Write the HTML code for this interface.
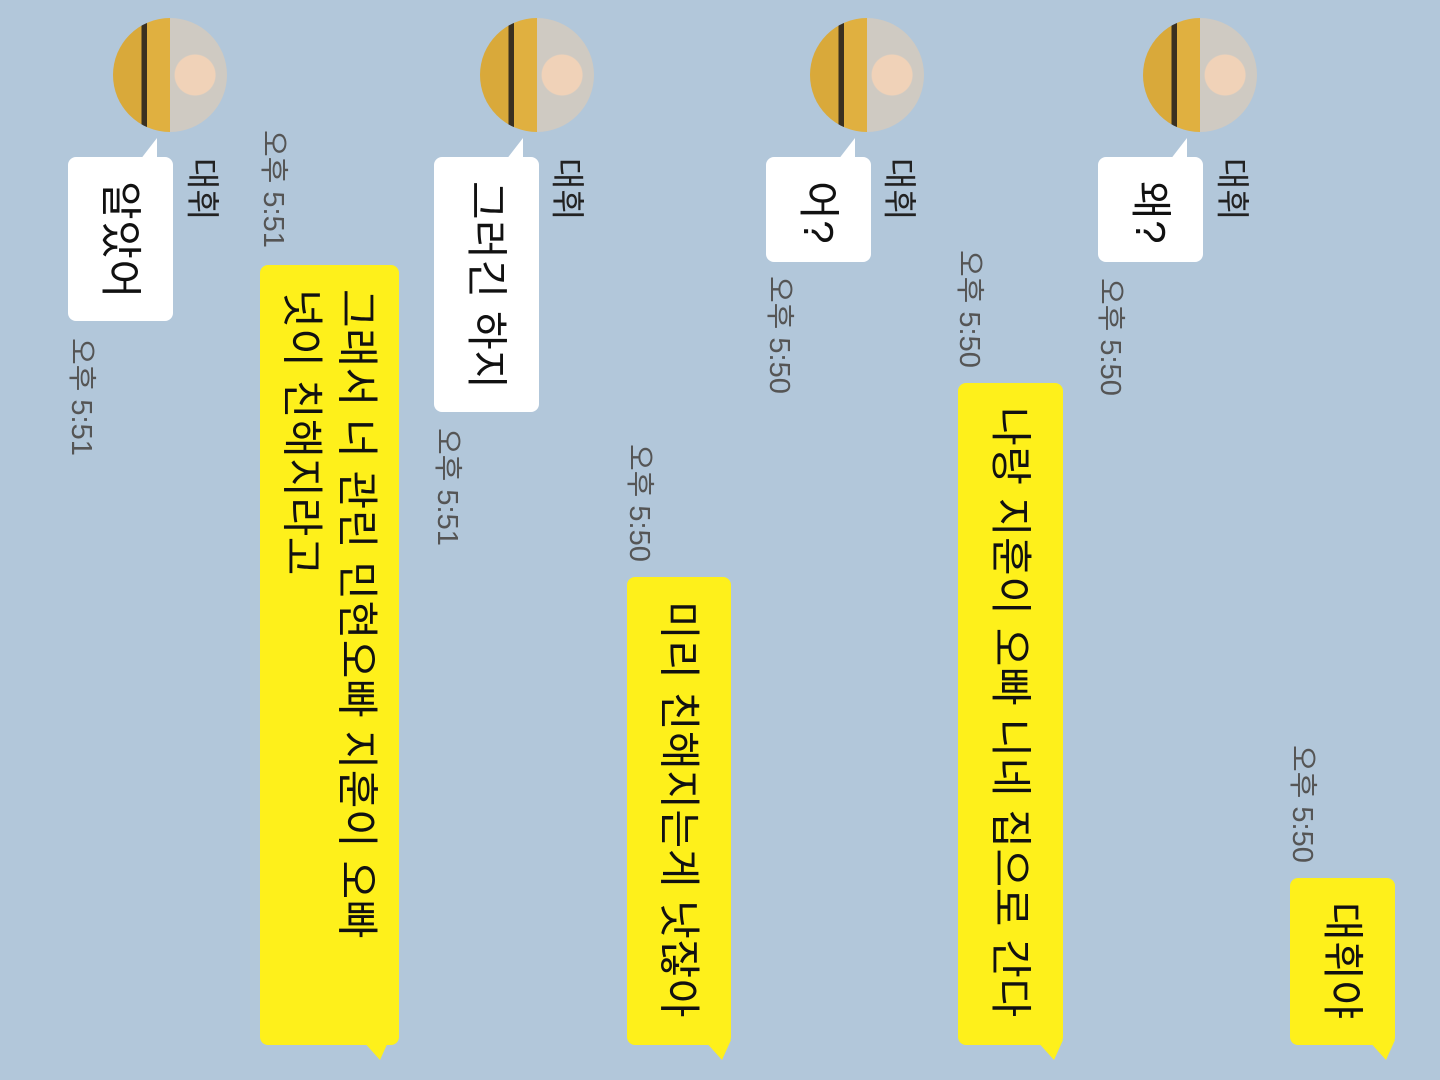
<!DOCTYPE html>
<html><head><meta charset="utf-8"><style>
html,body{margin:0;padding:0}
body{width:1440px;height:1080px;background:#b2c7da;position:relative;overflow:hidden;font-family:"Liberation Sans","Noto Sans CJK KR","NanumGothic",sans-serif}
.v{position:absolute;writing-mode:vertical-rl;text-orientation:sideways;display:flex;align-items:center;box-sizing:border-box;white-space:nowrap}
.b{border-radius:8px;font-size:42px;letter-spacing:0.6px;color:#111;padding-top:24px;line-height:55px}
.y{background:#fef01b}
.w{background:#fff}
.t{font-size:29px;color:#555;width:34px}
.n{font-size:34px;color:#222;width:44px}
.av{position:absolute;width:114px;height:114px;border-radius:50%;overflow:hidden;background:radial-gradient(circle at 72% 50%,#f0d2b8 0 20%,transparent 21%),linear-gradient(90deg,#d9a93a 0 25%,#3a3020 25% 30%,#e0b040 30% 50%,#cfcac2 50% 100%)}
svg{position:absolute}
</style></head><body>

<div class="v b y" style="left:1290px;top:878px;width:105px;height:167px">대휘야</div>
<svg style="left:1368px;top:1040px" width="30" height="22"><polygon points="0,0 27,0 18,20" fill="#fef01b"/></svg>
<div class="v t" style="left:1288px;top:745px;height:125px">오후 5:50</div>

<div class="av" style="left:1143px;top:18px"></div>
<div class="v n" style="left:1213px;top:158px;height:70px">대휘</div>
<div class="v b w" style="left:1098px;top:157px;width:105px;height:105px">왜?</div>
<svg style="left:1170px;top:138px" width="20" height="22"><polygon points="0,22 17,0 17,22" fill="#fff"/></svg>
<div class="v t" style="left:1096px;top:278px;height:125px">오후 5:50</div>

<div class="v b y" style="left:958px;top:383px;width:105px;height:662px">나랑 지훈이 오빠 니네 집으로 간다</div>
<svg style="left:1036px;top:1040px" width="30" height="22"><polygon points="0,0 27,0 18,20" fill="#fef01b"/></svg>
<div class="v t" style="left:955px;top:250px;height:125px">오후 5:50</div>

<div class="av" style="left:810px;top:18px"></div>
<div class="v n" style="left:880px;top:158px;height:70px">대휘</div>
<div class="v b w" style="left:766px;top:157px;width:105px;height:105px">어?</div>
<svg style="left:838px;top:138px" width="20" height="22"><polygon points="0,22 17,0 17,22" fill="#fff"/></svg>
<div class="v t" style="left:765px;top:276px;height:125px">오후 5:50</div>

<div class="v b y" style="left:627px;top:577px;width:104px;height:468px">미리 친해지는게 낫잖아</div>
<svg style="left:704px;top:1040px" width="30" height="22"><polygon points="0,0 27,0 18,20" fill="#fef01b"/></svg>
<div class="v t" style="left:625px;top:444px;height:125px">오후 5:50</div>

<div class="av" style="left:480px;top:18px"></div>
<div class="v n" style="left:548px;top:158px;height:70px">대휘</div>
<div class="v b w" style="left:434px;top:157px;width:105px;height:255px">그러긴 하지</div>
<svg style="left:506px;top:138px" width="20" height="22"><polygon points="0,22 17,0 17,22" fill="#fff"/></svg>
<div class="v t" style="left:433px;top:428px;height:125px">오후 5:51</div>

<div class="v b y" style="left:260px;top:265px;width:139px;height:780px;justify-content:flex-start"><span>그래서 너 관린 민현오빠 지훈이 오빠<br>넛이 친해지라고</span></div>
<svg style="left:362px;top:1040px" width="30" height="22"><polygon points="0,0 27,0 18,20" fill="#fef01b"/></svg>
<div class="v t" style="left:259px;top:130px;height:125px">오후 5:51</div>

<div class="av" style="left:113px;top:18px"></div>
<div class="v n" style="left:183px;top:158px;height:70px">대휘</div>
<div class="v b w" style="left:68px;top:157px;width:105px;height:164px">알았어</div>
<svg style="left:140px;top:138px" width="20" height="22"><polygon points="0,22 17,0 17,22" fill="#fff"/></svg>
<div class="v t" style="left:67px;top:338px;height:125px">오후 5:51</div>

</body></html>
